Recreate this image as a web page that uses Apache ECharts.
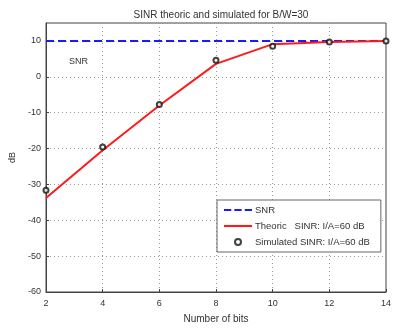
<!DOCTYPE html>
<html>
<head>
<meta charset="utf-8">
<script src="https://cdn.jsdelivr.net/npm/echarts@6/dist/echarts.min.js"></script>
<style>
  html, body { margin: 0; padding: 0; background: #fff; }
  #chart { width: 394px; height: 329px; }
</style>
</head>
<body>
<div id="chart"></div>
<script>
// data
var bits = [2, 4, 6, 8, 10, 12, 14];
var snr = [10, 10, 10, 10, 10, 10, 10];
var theoric = [-33.8, -20.5, -8, 3.6, 9.1, 9.7, 10];
var simulated = [-31.6, -19.6, -7.7, 4.6, 8.5, 9.7, 10];

function pairs(xs, ys) {
  return xs.map(function (x, i) { return [x, ys[i]]; });
}

var myChart = echarts.init(document.getElementById('chart'));
var txt = '#333';
var font = 'Arial';
var option = {
  animation: false,
  title: {
    text: 'SINR theoric and simulated for B/W=30',
    left: 216,
    top: 5,
    textAlign: 'center',
    textStyle: { fontSize: 10, fontWeight: 'normal', color: txt, fontFamily: font }
  },
  grid: {
    left: 43, right: 3, top: 23, bottom: 32,
    show: true, borderColor: '#444', borderWidth: 1
  },
  legend: {
    orient: 'vertical',
    left: 217, top: 200,
    padding: [5, 11, 5, 7],
    itemGap: 6,
    itemWidth: 28, itemHeight: 6,
    backgroundColor: '#fff',
    borderColor: '#666', borderWidth: 1,
    textStyle: { fontSize: 9.5, color: txt, fontFamily: font, padding: [0, 0, 0, -2] },
    data: [
      { name: 'SNR', icon: 'path://M0,0H7V2H0Z M10,0H17V2H10Z M20,0H27V2H20Z' },
      { name: 'Theoric   SINR: I/A=60 dB', icon: 'path://M0,0H27V2H0Z' },
      { name: 'Simulated SINR: I/A=60 dB', icon: 'circle',
        itemStyle: { color: '#fff', borderColor: '#111', borderWidth: 2 } }
    ]
  },
  xAxis: {
    type: 'value', min: 2, max: 14, interval: 2,
    name: 'Number of bits', nameLocation: 'middle', nameGap: 22,
    nameTextStyle: { fontSize: 10, color: txt, fontFamily: font },
    axisLine: { onZero: false, lineStyle: { color: '#444' } },
    axisTick: { inside: true, length: 3, lineStyle: { color: '#444' } },
    axisLabel: { fontSize: 9, color: txt, margin: 7, fontFamily: font },
    splitLine: { show: true, lineStyle: { type: [1, 3], color: '#999' } }
  },
  yAxis: {
    type: 'value', min: -60, max: 15, interval: 10,
    name: 'dB', nameLocation: 'middle', nameGap: 29,
    nameTextStyle: { fontSize: 9, color: txt, fontFamily: font },
    axisLine: { show: true, onZero: false, lineStyle: { color: '#444' } },
    axisTick: { show: true, inside: true, length: 3, lineStyle: { color: '#444' } },
    axisLabel: { fontSize: 9, color: txt, margin: 5, showMaxLabel: false, fontFamily: font },
    splitLine: { show: true, lineStyle: { type: [1, 3], color: '#999' } }
  },
  graphic: [
    {
      type: 'text', left: 69, top: 57,
      style: { text: 'SNR', fontSize: 9, fill: txt, fontFamily: font }
    }
  ],
  series: [
    {
      name: 'SNR', type: 'line', symbol: 'none',
      data: pairs(bits, snr),
      lineStyle: { color: '#1a1aff', width: 2, type: [8, 4] },
      itemStyle: { color: '#1a1aff' },
      z: 3
    },
    {
      name: 'Theoric   SINR: I/A=60 dB', type: 'line', symbol: 'none',
      data: pairs(bits, theoric),
      lineStyle: { color: '#ff1a1a', width: 2 },
      itemStyle: { color: '#ff1a1a' },
      z: 4
    },
    {
      name: 'Simulated SINR: I/A=60 dB', type: 'scatter',
      symbol: 'circle', symbolSize: 5,
      data: pairs(bits, simulated),
      itemStyle: { color: '#fff', borderColor: '#111', borderWidth: 2 },
      z: 5
    }
  ]
};
myChart.setOption(option);
</script>
</body>
</html>
